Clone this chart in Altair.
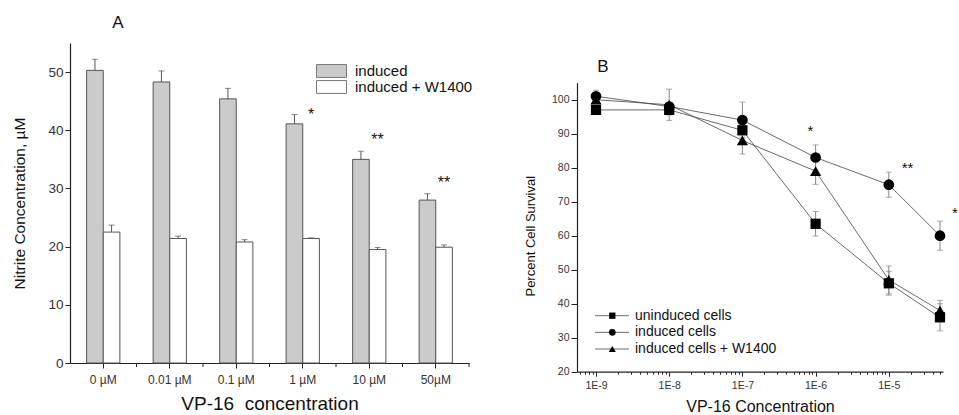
import altair as alt
import pandas as pd

FONT = "Liberation Sans"

# ---------------- Panel A data ----------------
conc_labels = ["0 µM", "0.01 µM", "0.1 µM", "1 µM", "10 µM", "50µM"]
groups = ["induced", "induced + W1400"]
induced = [50.3, 48.3, 45.4, 41.1, 35.0, 28.0]
induced_err = [1.9, 1.9, 1.8, 1.6, 1.4, 1.1]
w1400 = [22.5, 21.4, 20.8, 21.4, 19.5, 19.9]
w1400_err = [1.2, 0.4, 0.4, 0.1, 0.35, 0.4]
starsA_conc = ["1 µM", "10 µM", "50µM"]
starsA_text = ["*", "**", "**"]
starsA_y = [43.1, 38.8, 31.4]

# ---------------- Panel B data ----------------
doses = [1e-9, 1e-8, 1e-7, 1e-6, 1e-5, 5e-5]
series = ["uninduced cells", "induced cells", "induced cells + W1400"]
uninduced_b = [97, 97, 91, 63.5, 46, 36]
uninduced_b_err = [1.0, 1.5, 2.0, 3.6, 3.5, 4.0]
induced_b = [101, 98, 94, 83, 75, 60]
induced_b_err = [1.8, 1.0, 5.3, 3.7, 3.7, 4.3]
w1400_b = [100, 98.5, 88, 79, 47, 38]
w1400_b_err = [1.0, 4.6, 4.0, 3.9, 4.1, 3.0]
starsB_x = [8.5e-7, 1.8e-5, 8e-5]
starsB_y = [91.6, 80.7, 67.5]
starsB_text = ["*", "**", "*"]

# ---------------- tables ----------------
rowsA = []
for i, c in enumerate(conc_labels):
    rowsA.append({"conc": c, "group": groups[0], "value": induced[i], "hi": induced[i] + induced_err[i]})
    rowsA.append({"conc": c, "group": groups[1], "value": w1400[i], "hi": w1400[i] + w1400_err[i]})
dfA = pd.DataFrame(rowsA)
dfA_cats = pd.DataFrame({"conc": conc_labels})
dfA_stars = pd.DataFrame({"conc": starsA_conc, "group": groups[1], "text": starsA_text, "y": starsA_y})

rowsB = []
for name, vals, errs in zip(series, [uninduced_b, induced_b, w1400_b], [uninduced_b_err, induced_b_err, w1400_b_err]):
    for d, v, e in zip(doses, vals, errs):
        rowsB.append({"dose": d, "series": name, "value": v, "lo": v - e, "hi": v + e})
dfB = pd.DataFrame(rowsB)
dfB_stars = pd.DataFrame({"dose": starsB_x, "y": starsB_y, "text": starsB_text})
dfLeg = pd.DataFrame({"series": series})
one = pd.DataFrame({"k": [0]})

AX = "#222222"
LBL = "#333333"

# ---------------- Panel A ----------------
WA, HA = 399, 320
x_scale = alt.Scale(domain=conc_labels, paddingInner=0.5, paddingOuter=0.25)
xA = alt.X("conc:N", sort=conc_labels, scale=x_scale,
           axis=alt.Axis(title="VP-16\u00a0 concentration", labelAngle=0, tickSize=5,
                         labelFontSize=12, titleFontSize=19, labelPadding=6, titlePadding=9))
xoff = alt.XOffset("group:N", sort=groups, scale=alt.Scale(domain=groups))
yA_axis = alt.Axis(title="Nitrite Concentration, µM", values=list(range(0, 56, 5)),
                   labelExpr="datum.value % 10 == 0 ? datum.label : ''",
                   tickSize={"condition": {"test": "datum.value % 10 == 0", "value": 5}, "value": 3},
                   labelFontSize=13.5, titleFontSize=15.5, titlePadding=20)
yA = alt.Y("value:Q", scale=alt.Scale(domain=[0, 55], nice=False, zero=True), axis=yA_axis)

rect_path = "M-1,-0.43L1,-0.43L1,0.43L-1,0.43Z"
bars = alt.Chart(dfA).mark_bar(stroke="#555555", strokeWidth=1).encode(
    x=xA, xOffset=xoff, y=yA,
    fill=alt.Fill("group:N", scale=alt.Scale(domain=groups, range=["#cbcbcb", "#ffffff"]),
                  legend=alt.Legend(title=None, orient="none", legendX=246, legendY=20,
                                    symbolType=rect_path, symbolSize=900,
                                    symbolStrokeColor="#777777", symbolStrokeWidth=1,
                                    labelFontSize=15, labelFont=FONT, labelColor="#111111",
                                    clipHeight=16, rowPadding=0, labelOffset=8)))
errA = alt.Chart(dfA).mark_rule(color="#555555", strokeWidth=1).encode(
    x=alt.X("conc:N", sort=conc_labels), xOffset=xoff, y="value:Q", y2="hi:Q")
capA = alt.Chart(dfA).mark_tick(orient="horizontal", size=6, thickness=1, color="#555555").encode(
    x=alt.X("conc:N", sort=conc_labels), xOffset=xoff, y="hi:Q")
ticks_mid = alt.Chart(dfA_cats).mark_rule(color=AX, strokeWidth=1, xOffset=WA / 12).encode(
    x=alt.X("conc:N", sort=conc_labels), y=alt.value(HA), y2=alt.value(HA + 4))
starsA = alt.Chart(dfA_stars).mark_text(fontSize=16, font=FONT, color="#111111", baseline="middle", dy=3).encode(
    x=alt.X("conc:N", sort=conc_labels), xOffset=xoff, y="y:Q", text="text:N")
labelA = alt.Chart(one).mark_text(fontSize=17, font=FONT, color="#111111", baseline="middle").encode(
    x=alt.value(48), y=alt.value(-20), text=alt.value("A"))
spacerA = alt.Chart(one).mark_rule(opacity=0, strokeOpacity=0).encode(
    x=alt.value(-70), x2=alt.value(418), y=alt.value(-43), y2=alt.value(0))

panelA = alt.layer(spacerA, bars, errA, capA, ticks_mid, starsA, labelA).properties(width=WA, height=HA)

# ---------------- Panel B ----------------
# plot group starts at the same top as panel A; the axis itself starts TOPB lower
TOPB = 39.7
WB, HB = 366, 289 + TOPB
xticks = [k * 10.0 ** e for e in range(-10, -4) for k in range(1, 10) if 5.5e-10 <= k * 10.0 ** e <= 5.5e-5]
major_test = "abs(log(datum.value)/LN10 - round(log(datum.value)/LN10)) < 0.001"
xB = alt.X("dose:Q", scale=alt.Scale(type="log", domain=[5.5e-10, 5.5e-5], nice=False),
           axis=alt.Axis(title="VP-16 Concentration", values=xticks,
                         labelExpr=f"{major_test} ? '1E-' + format(-round(log(datum.value)/LN10), 'd') : ''",
                         tickSize={"condition": {"test": major_test, "value": 4.5}, "value": 2.5},
                         labelFontSize=10.5, titleFontSize=16, labelPadding=4, titlePadding=8))
yB = alt.Y("value:Q", scale=alt.Scale(domain=[20, 105], nice=False, zero=False, range=[HB, TOPB]),
           axis=alt.Axis(title="Percent Cell Survival", values=list(range(20, 106, 5)),
                         labelExpr="datum.value % 10 == 0 ? datum.label : ''",
                         tickSize={"condition": {"test": "datum.value % 10 == 0", "value": 6}, "value": 3},
                         labelFontSize=10.5, titleFontSize=13, titlePadding=14, titleY=153 + TOPB))

shape_scale = alt.Scale(domain=series, range=["square", "circle", "triangle-up"])
linesB = alt.Chart(dfB).mark_line(color="#444444", strokeWidth=0.8).encode(
    x=xB, y=yB, detail="series:N", order="dose:Q")
errB = alt.Chart(dfB).mark_rule(color="#888888", strokeWidth=1).encode(x="dose:Q", y="lo:Q", y2="hi:Q")
capB_lo = alt.Chart(dfB).mark_tick(orient="horizontal", size=6, thickness=1, color="#888888").encode(x="dose:Q", y="lo:Q")
capB_hi = alt.Chart(dfB).mark_tick(orient="horizontal", size=6, thickness=1, color="#888888").encode(x="dose:Q", y="hi:Q")
pointsB = alt.Chart(dfB).mark_point(filled=True, color="#000000", opacity=1).encode(
    x="dose:Q", y="value:Q",
    shape=alt.Shape("series:N", scale=shape_scale, legend=None),
    size=alt.Size("series:N", scale=alt.Scale(domain=series, range=[105, 125, 150]), legend=None))
starsB = alt.Chart(dfB_stars).mark_text(fontSize=15, font=FONT, color="#111111", baseline="middle", dy=3).encode(
    x="dose:Q", y="y:Q", text="text:N")
dataB = alt.layer(linesB, errB, capB_lo, capB_hi, pointsB, starsB)

# legend for panel B, rows placed by a point scale
legY = alt.Y("series:N", sort=series,
             scale=alt.Scale(type="point", domain=series, range=[233 + TOPB, 266.3 + TOPB], padding=0), axis=None)
legLine = alt.Chart(dfLeg).mark_rule(color="#444444", strokeWidth=0.8).encode(
    x=alt.value(18), x2=alt.value(52), y=legY)
legPts = alt.Chart(dfLeg).mark_point(filled=True, color="#000000", opacity=1).encode(
    x=alt.value(35.3), y=legY,
    shape=alt.Shape("series:N", scale=shape_scale, legend=None),
    size=alt.Size("series:N", scale=alt.Scale(domain=series, range=[40, 50, 55]), legend=None))
legText = alt.Chart(dfLeg).mark_text(align="left", baseline="middle", fontSize=14, font=FONT, color="#111111").encode(
    x=alt.value(58), y=legY, text="series:N")
legB = alt.layer(legLine, legPts, legText).resolve_scale(size="independent")

labelB = alt.Chart(one).mark_text(fontSize=17, font=FONT, color="#111111", baseline="middle").encode(
    x=alt.value(26), y=alt.value(TOPB - 16), text=alt.value("B"))
spacerB = alt.Chart(one).mark_rule(opacity=0, strokeOpacity=0).encode(
    x=alt.value(-60), x2=alt.value(0), y=alt.value(0), y2=alt.value(10))

panelB = alt.layer(spacerB, dataB, legB, labelB).resolve_scale(
    y="independent", size="independent").properties(width=WB, height=HB)

chart = alt.hconcat(panelA, panelB, spacing=29).properties(
    padding={"left": 0, "top": 0, "right": 0, "bottom": 0}
).configure_view(stroke=None).configure_axis(
    grid=False, domainColor=AX, tickColor=AX, labelColor=LBL, titleColor="#111111",
    labelFont=FONT, titleFont=FONT, titleFontWeight="normal", domainWidth=1.2, tickWidth=1
).configure_text(font=FONT)

chart.save("out.html", embed_options={"renderer": "svg", "actions": False})
